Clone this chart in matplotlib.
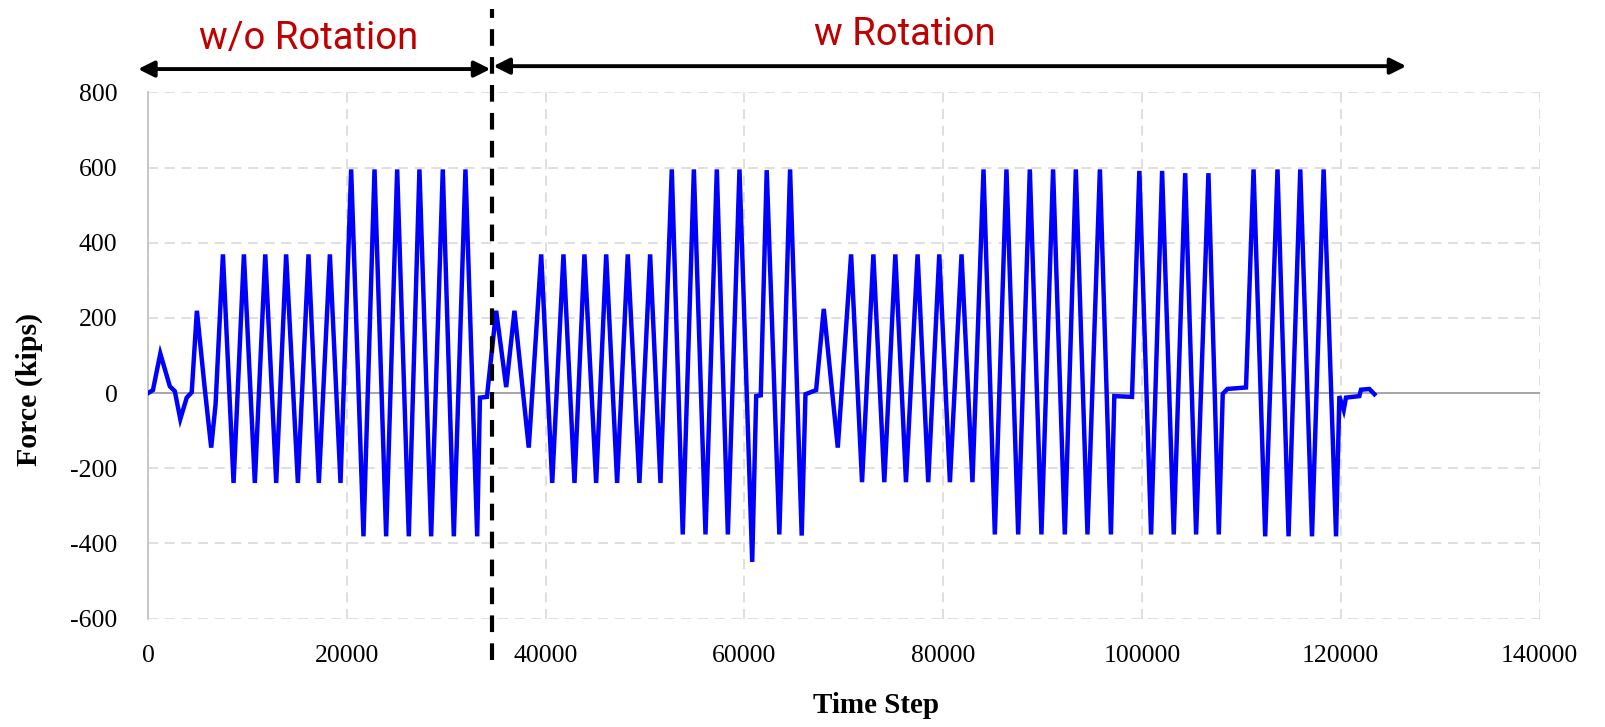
import numpy as np
import matplotlib
matplotlib.use("Agg")
import matplotlib.pyplot as plt
from matplotlib.transforms import blended_transform_factory

# vertices of the force history (time step, kips)
time_step = [0, 500, 1240, 2200, 2700, 3250, 3900, 4400, 4920, 5700, 6360, 6800,
             7540, 8610, 9650, 10750, 11800, 12900, 13900, 15080, 16150, 17190, 18300, 19370,
             20440, 21680, 22790, 23960, 25070, 26240, 27310, 28490, 29660, 30770, 31940, 33120,
             33400, 34100, 35030, 36040, 36870, 38310,
             39560, 40670, 41800, 42910, 43910, 45090, 46100, 47200, 48270, 49440, 50520, 51560,
             52700, 53800, 54920, 56090, 57230, 58340, 59510, 60790, 61190, 61650, 62250, 63520,
             64600, 65770, 66150, 67220, 67990, 69400,
             70740, 71840, 72980, 74080, 75190, 76260, 77430, 78500, 79610, 80680, 81850, 82950,
             84060, 85200, 86370, 87550, 88720, 89890, 91060, 92240, 93350, 94520, 95770, 96880,
             97220, 99000, 99740, 100920, 102030, 103200, 104350, 105450, 106690, 107730,
             108130, 108600, 110470, 111230, 112400, 113640, 114750, 115930, 117110, 118280, 119530,
             119860, 120300, 120530, 121870, 122040, 122880, 123390]
force = [0, 8, 105, 18, 5, -69, -12, 2, 219, 15, -145, -30,
         369, -239, 369, -239, 369, -239, 369, -239, 369, -239, 369, -239,
         595, -381, 595, -381, 595, -381, 595, -381, 595, -381, 595, -381,
         -12, -10, 219, 16, 219, -145,
         369, -239, 369, -239, 369, -239, 369, -239, 369, -239, 369, -239,
         595, -376, 595, -376, 595, -376, 595, -449, -8, -6, 593, -376,
         595, -379, -3, 8, 224, -145,
         369, -237, 369, -237, 369, -237, 369, -237, 369, -237, 369, -237,
         595, -376, 595, -376, 595, -376, 595, -376, 595, -376, 595, -376,
         -8, -10, 591, -376, 591, -376, 585, -376, 585, -376,
         -2, 11, 15, 595, -381, 595, -381, 595, -381, 595, -381,
         -8, -45, -12, -8, 9, 11, -3]

xticks = np.arange(0, 140001, 20000)
yticks = np.arange(-600, 801, 200)
split_step = 34600

fig = plt.figure(figsize=(16.05, 7.27), dpi=100)
ax = fig.add_axes([0.0922, 0.149, 0.867, 0.724])

ax.plot(time_step, force, color="#0000ff", lw=3.2, zorder=3, solid_joinstyle="miter")
ax.axhline(0, color="#a6a6a6", lw=1.4, zorder=2)

ax.set_xlim(0, 140000)
ax.set_ylim(-600, 800)
ax.set_xticks(xticks)
ax.set_yticks(yticks)
ax.set_xticklabels([str(v) for v in xticks], family="Liberation Serif", fontsize=18.5)
ax.set_yticklabels([str(v) for v in yticks], family="Liberation Serif", fontsize=18.5)
ax.tick_params(length=0, pad=22)
ax.tick_params(axis="x", pad=19)
ax.grid(True, color="#d9d9d9", ls=(0, (6, 4)), lw=1.2)
for s in ["top", "right", "bottom"]:
    ax.spines[s].set_visible(False)
ax.spines["left"].set_color("#bfbfbf")
ax.spines["left"].set_linewidth(1.2)

fig.text(0.546, 0.029, "Time Step", family="Liberation Serif", fontweight="bold",
         fontsize=21, ha="center", va="center")
fig.text(0.018, 0.465, "Force (kips)", family="Liberation Serif", fontweight="bold",
         fontsize=21.5, ha="center", va="center", rotation=90)

# split marker and phase annotations
ax.axvline(split_step, ymin=-0.078, ymax=1.158, color="black", lw=3.0,
           ls=(0, (4.0, 2.7)), clip_on=False, zorder=4)
arrow = dict(arrowstyle="<|-|>", color="black", lw=2.8, mutation_scale=24,
             shrinkA=0, shrinkB=0)
ax.annotate("", xy=(-1000, 0.905), xytext=(split_step - 150, 0.905),
            xycoords=("data", "figure fraction"), textcoords=("data", "figure fraction"),
            arrowprops=arrow, annotation_clip=False)
ax.annotate("", xy=(split_step + 150, 0.909), xytext=(126600, 0.909),
            xycoords=("data", "figure fraction"), textcoords=("data", "figure fraction"),
            arrowprops=arrow, annotation_clip=False)
mixed = blended_transform_factory(ax.transData, fig.transFigure)
label_font = ["Liberation Sans Narrow", "Roboto", "DejaVu Sans"]
ax.text(16150, 0.947, "w/o Rotation", transform=mixed,
        family=label_font, color="#c00000", fontsize=27.5, ha="center", va="center")
ax.text(76180, 0.953, "w Rotation", transform=mixed,
        family=label_font, color="#c00000", fontsize=27.5, ha="center", va="center")

fig.savefig("out.png", dpi=100)
